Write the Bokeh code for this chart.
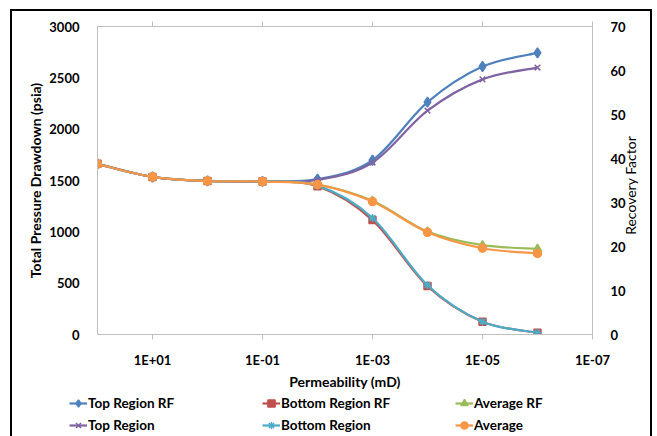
import math

import numpy as np
from bokeh.embed import file_html
from bokeh.layouts import column
from bokeh.models import (ColumnDataSource, FixedTicker, Legend, LegendItem,
                          LinearAxis, LogAxis, Range1d, SingleIntervalTicker)
from bokeh.plotting import figure
from bokeh.resources import INLINE

# ---------------------------------------------------------------- data
permeability = [100, 10, 1, 0.1, 0.01, 1e-3, 1e-4, 1e-5, 1e-6]

# recovery factor (right axis)
top_region_rf = [38.8, 35.8, 34.9, 34.8, 35.3, 39.6, 52.8, 60.9, 64.0]
bottom_region_rf = [38.8, 35.8, 34.9, 34.8, 33.7, 26.0, 11.0, 2.9, 0.4]
average_rf = [38.8, 35.8, 34.9, 34.8, 34.1, 30.4, 23.4, 20.3, 19.5]

# total pressure drawdown, psia (left axis)
top_region = [1660, 1535, 1495, 1490, 1505, 1675, 2180, 2485, 2600]
bottom_region = [1660, 1535, 1495, 1490, 1450, 1135, 480, 125, 17]
average = [1660, 1535, 1495, 1490, 1460, 1295, 995, 840, 790]

x_ticks = [10, 0.1, 1e-3, 1e-5, 1e-7]
x_tick_labels = ["1E+01", "1E-01", "1E-03", "1E-05", "1E-07"]

# ---------------------------------------------------------------- style
FONT = "Lato"
AXIS_GRAY = "#BFBFBF"

series = [
    # label, values, axis, colour, marker
    ("Top Region RF", top_region_rf, "rf", "#4F81BD", "diamond"),
    ("Bottom Region RF", bottom_region_rf, "rf", "#C0504D", "square"),
    ("Average RF", average_rf, "rf", "#9BBB59", "triangle"),
    ("Top Region", top_region, "default", "#8064A2", "x"),
    ("Bottom Region", bottom_region, "default", "#4BACC6", "asterisk"),
    ("Average", average, "default", "#F79646", "circle"),
]
marker_size = {"diamond": 10, "square": 7, "triangle": 8, "x": 8,
               "asterisk": 8, "circle": 8}
LINE_WIDTH = 2.2


def smooth_segments(xs, ys):
    """Cubic Bezier pieces (Catmull-Rom style) through the points,
    built in log10(x) so the curve is smooth on the log axis."""
    lx = np.log10(np.asarray(xs, float))
    y = np.asarray(ys, float)
    px = np.concatenate([[lx[0]], lx, [lx[-1]]])
    py = np.concatenate([[y[0]], y, [y[-1]]])
    out = {k: [] for k in ("x0", "y0", "x1", "y1", "cx0", "cy0", "cx1", "cy1")}
    for i in range(len(lx) - 1):
        a, b, c, d = i, i + 1, i + 2, i + 3
        out["x0"].append(10 ** px[b])
        out["y0"].append(py[b])
        out["x1"].append(10 ** px[c])
        out["y1"].append(py[c])
        out["cx0"].append(10 ** (px[b] + (px[c] - px[a]) / 6))
        out["cy0"].append(py[b] + (py[c] - py[a]) / 6)
        out["cx1"].append(10 ** (px[c] - (px[d] - px[b]) / 6))
        out["cy1"].append(py[c] - (py[d] - py[b]) / 6)
    return out


# ---------------------------------------------------------------- chart
p = figure(width=638, height=381, x_axis_type="log",
           x_range=Range1d(100, 1e-7), y_range=Range1d(0, 3000),
           output_backend="svg", toolbar_location=None,
           min_border_left=85, min_border_right=58,
           min_border_top=15, min_border_bottom=57)
p.extra_y_ranges = {"rf": Range1d(0, 70)}
p.xgrid.visible = False
p.ygrid.visible = False
p.outline_line_color = AXIS_GRAY
p.outline_line_width = 1
p.background_fill_color = "white"
p.border_fill_color = "white"

# bottom (permeability) axis
xa = p.xaxis[0]
xa.ticker = FixedTicker(ticks=x_ticks)
xa.major_label_overrides = dict(zip(x_ticks, x_tick_labels))
xa.minor_tick_line_color = None
xa.major_tick_out = 5
xa.major_tick_in = 0
xa.major_tick_line_color = AXIS_GRAY
xa.axis_line_color = AXIS_GRAY
xa.major_label_standoff = 12
xa.axis_label = "Permeability (mD)"
xa.axis_label_standoff = 2

# tick marks along the top edge (no labels)
top_axis = LogAxis(ticker=FixedTicker(ticks=x_ticks),
                   major_label_text_alpha=0, major_label_text_font_size="2px",
                   major_tick_out=5, major_tick_in=0,
                   major_tick_line_color=AXIS_GRAY,
                   minor_tick_line_color=None,
                   axis_line_color=AXIS_GRAY)
p.add_layout(top_axis, "above")

# left (drawdown) axis
ya = p.yaxis[0]
ya.ticker = SingleIntervalTicker(interval=500)
ya.minor_tick_line_color = None
ya.major_tick_out = 0
ya.major_tick_in = 0
ya.axis_line_color = AXIS_GRAY
ya.major_label_standoff = 14
ya.axis_label = "Total Pressure Drawdown (psia)"
ya.axis_label_standoff = 2

# right (recovery factor) axis
ra = LinearAxis(y_range_name="rf", ticker=SingleIntervalTicker(interval=10),
                minor_tick_line_color=None, major_tick_out=0, major_tick_in=0,
                axis_line_color=AXIS_GRAY, major_label_standoff=14)
p.add_layout(ra, "right")

for ax in (xa, ya, ra):
    ax.major_label_text_font = FONT
    ax.major_label_text_font_style = "bold"
    ax.major_label_text_font_size = "13px"
    ax.major_label_text_color = "black"
    ax.axis_label_text_font = FONT
    ax.axis_label_text_font_style = "bold"
    ax.axis_label_text_font_size = "14px"
    ax.axis_label_text_color = "black"

# right-hand axis title, reading bottom to top; the rotated text starts at
# its anchor value on the recovery-factor scale and runs upward
rf_title_anchor = 22.65
rf_title = LinearAxis(y_range_name="rf", ticker=FixedTicker(ticks=[rf_title_anchor]),
                      major_label_overrides={rf_title_anchor: "Recovery Factor"},
                      major_label_orientation=math.pi / 2,
                      major_label_standoff=2,
                      major_tick_out=0, major_tick_in=0,
                      major_label_text_font=FONT,
                      major_label_text_font_style="normal",
                      major_label_text_font_size="14px",
                      major_label_text_color="black",
                      axis_line_color=None, major_tick_line_color=None,
                      minor_tick_line_color=None)
p.add_layout(rf_title, "right")

for label, vals, rng, color, marker in series:
    seg = ColumnDataSource(smooth_segments(permeability, vals))
    p.bezier(x0="x0", y0="y0", x1="x1", y1="y1",
             cx0="cx0", cy0="cy0", cx1="cx1", cy1="cy1",
             source=seg, line_color=color, line_width=LINE_WIDTH,
             y_range_name=rng)
    p.scatter(permeability, vals, marker=marker, size=marker_size[marker],
              fill_color=color, line_color=color, line_width=1.5,
              y_range_name=rng)

# ---------------------------------------------------------------- legend strip
# The series are drawn again here only as legend samples; the strip's ranges
# keep the marks themselves out of view.
key = figure(width=638, height=44, x_range=Range1d(0, 1), y_range=Range1d(-2, -1),
             output_backend="svg", toolbar_location=None,
             x_axis_location=None, y_axis_location=None,
             min_border_left=0, min_border_right=0,
             min_border_top=0, min_border_bottom=0)
key.grid.visible = False
key.outline_line_color = None
key.background_fill_color = "white"
key.border_fill_color = "white"
for fig in (p, key):
    if "frame_align" in fig.properties():
        fig.frame_align = False

items = []
for label, vals, rng, color, marker in series:
    sample_line = key.line(x=permeability, y=vals, line_color=color,
                           line_width=LINE_WIDTH)
    sample_marker = key.scatter(x=permeability, y=vals, marker=marker,
                                size=marker_size[marker], fill_color=color,
                                line_color=color, line_width=1.5)
    items.append(LegendItem(label=label, renderers=[sample_line, sample_marker]))

legend = Legend(items=items, location=(57, 0), orientation="horizontal",
                ncols=3, glyph_width=18, glyph_height=22, label_height=22,
                label_width=174, label_standoff=1, spacing=0, padding=0,
                margin=0, border_line_alpha=0, background_fill_alpha=0,
                label_text_font=FONT, label_text_font_style="bold",
                label_text_font_size="13.5px", label_text_color="black")
key.add_layout(legend, "center")

# the whole chart sits inside a black frame
layout = column(p, key, spacing=0,
                styles={"position": "absolute", "left": "12px", "top": "11px",
                        "outline": "2.5px solid black",
                        "background-color": "white"})

open("out.html", "w").write(file_html(layout, INLINE))
